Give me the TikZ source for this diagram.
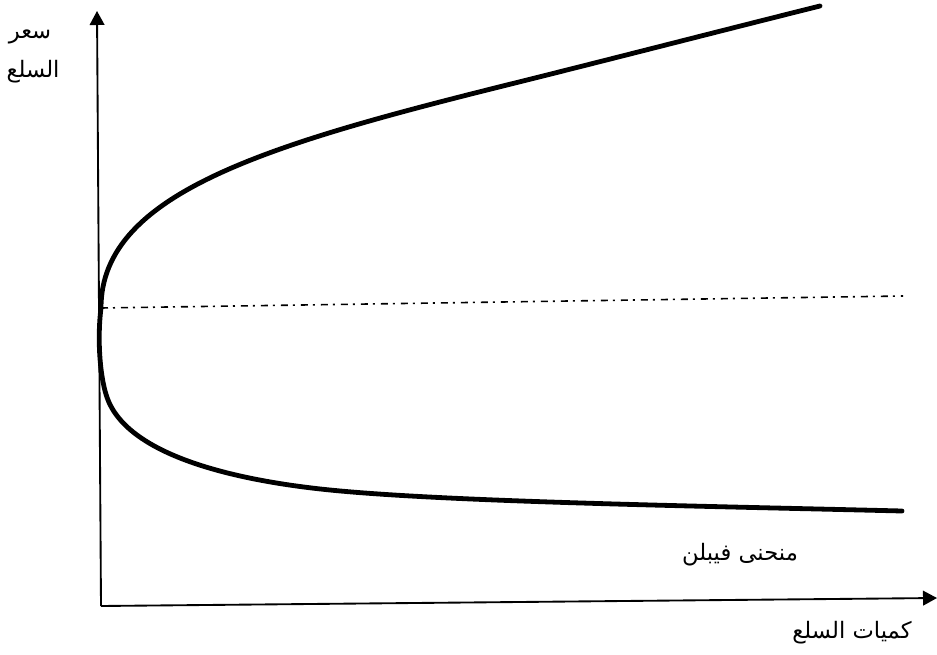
\documentclass[tikz,border=0pt]{standalone}
\usepackage{fontspec}
\newfontfamily\arabicfont[Script=Arabic]{DejaVu Sans}
\TeXXeTstate=1
\usetikzlibrary{arrows.meta}
\begin{document}
\begin{tikzpicture}[x=0.75pt,y=-0.75pt,
  axis/.style={line width=1.4pt,-{Triangle[length=10.5pt,width=11pt]}},
  curve/.style={line width=3.6pt,line cap=round,line join=round},
  guide/.style={line width=1.2pt,dash pattern=on 5.25pt off 3.75pt on 1.5pt off 4.5pt},
  lbl/.style={font=\arabicfont\fontsize{17}{20}\selectfont,inner sep=0pt}]
\useasboundingbox (0,0) rectangle (937,655);
\coordinate (O) at (101,606);
\coordinate (Ytop) at (97,11);
\coordinate (Xend) at (937,598);
\coordinate (P) at (101,308);
\coordinate (Q) at (903,296);
\coordinate (U1) at (527,80);
\coordinate (U2) at (820,6);
\coordinate (L1) at (108,400);
\coordinate (L2) at (330,490);
\coordinate (L3) at (902,511);
\draw[axis] (O) -- (Ytop);
\draw[axis] (O) -- (Xend);
\draw[guide] (P) -- (Q);
\draw[curve] (U2) .. controls (720,31) and (627,55) .. (U1)
  .. controls (277,142) and (101,190) .. (P)
  .. controls (97,340) and (100,380) .. (L1)
  .. controls (132,460) and (250,482) .. (L2)
  .. controls (450,502) and (700,506) .. (L3);
\node[lbl] (t1) at (30,37) {\beginR سعر\endR};
\node[lbl] (t2) at (33,72) {\beginR السلع\endR};
\node[lbl] (t3) at (740,555) {\beginR منحنى فيبلن\endR};
\node[lbl] (t4) at (852,633) {\beginR كميات السلع\endR};
\end{tikzpicture}
\end{document}
